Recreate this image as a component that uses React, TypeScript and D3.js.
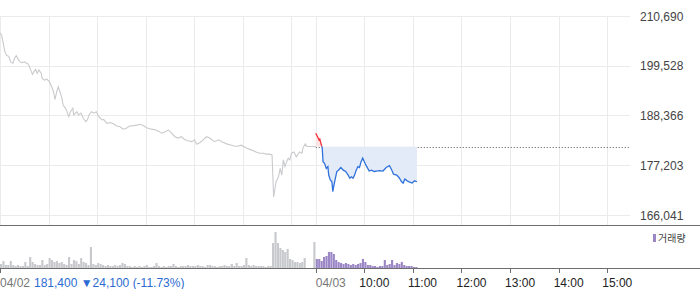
import React from "react";
import * as d3 from "d3";

// [minutes since 09:00, price] — previous session (04/02)
const prevDay: [number, number][] = [
  [0, 206900], [2, 206400], [4, 204600], [6, 202700], [8, 201900], [11, 201600], [13, 200400], [16, 200100],
  [18, 201200], [20, 201800], [23, 200800], [25, 200400], [27, 200200], [30, 200400], [33, 200100], [35, 199900],
  [37, 199000], [40, 197600], [42, 198200], [44, 198700], [46, 197800], [48, 198600], [51, 197800], [52, 196700],
  [55, 196300], [58, 196500], [61, 195900], [64, 194800], [66, 193700], [68, 192000], [70, 193700], [72, 194800],
  [74, 193700], [76, 192600], [78, 190700], [80, 190200], [82, 189600], [85, 188100], [87, 189200], [90, 190000],
  [91, 188500], [95, 189200], [97, 188500], [100, 188900], [103, 187700], [106, 187000], [108, 187400], [110, 188500],
  [113, 189200], [116, 188900], [119, 189200], [122, 188100], [126, 187400], [128, 187500], [132, 186600], [136, 186800],
  [140, 186500], [144, 186000], [148, 185900], [152, 185300], [156, 185500], [160, 186000], [165, 186100], [169, 186200],
  [173, 186400], [177, 186100], [181, 185600], [187, 185300], [193, 185100], [200, 184400], [204, 184700], [208, 185100],
  [212, 184400], [216, 183600], [220, 183300], [224, 183600], [228, 183000], [232, 182700], [237, 182500], [240, 182900],
  [243, 181900], [247, 182300], [251, 182900], [255, 183600], [259, 183300], [265, 182500], [270, 182900], [274, 182500],
  [280, 182000], [286, 181700], [292, 181400], [298, 181700], [305, 181000], [311, 180600], [317, 180100], [321, 179900],
  [325, 179900], [329, 179700], [333, 179700], [336, 179500], [338, 170100], [341, 173500], [344, 174600], [346, 176500],
  [348, 175000], [350, 178400], [352, 176900], [354, 178000], [356, 178800], [358, 178400], [360, 179900], [363, 180200],
  [366, 179100], [370, 180200], [373, 179900], [374, 181000], [377, 182000], [379, 181400], [390, 181400],
];

// [minutes since 09:00, price] — current session (04/03)
const today: [number, number][] = [
  [0, 184400], [3, 183300], [4, 182900], [5, 183100], [7, 181700], [8, 181100], [9, 178000], [11, 177600],
  [13, 176500], [15, 176900], [16, 175000], [18, 173900], [20, 173500], [21, 171300], [23, 173200], [26, 175800],
  [28, 176100], [31, 176700], [34, 176100], [37, 175800], [40, 175000], [42, 174300], [44, 174600], [46, 174300],
  [48, 175000], [50, 176100], [52, 176900], [54, 176700], [56, 178000], [58, 178800], [61, 177600], [63, 176900],
  [66, 175900], [69, 176100], [72, 175800], [75, 175900], [79, 176000], [83, 175900], [87, 176700], [91, 177100],
  [94, 176100], [96, 175200], [100, 175000], [103, 174400], [106, 173500], [108, 173200], [110, 174100], [113, 173700],
  [116, 173400], [119, 173200], [122, 173700], [125, 173500],
];

const refPrice = 181400;

// volume per 3-minute bin
const prevVolume = [
  10000, 17500, 7500, 7500, 17500, 7500, 5000, 7500, 5000, 5000,
  15000, 5000, 27500, 15000, 10000, 7500, 7500, 20000, 7500, 10000,
  25000, 20000, 15000, 17500, 12500, 15000, 10000, 7500, 27500, 10000,
  20000, 17500, 10000, 25000, 15000, 12500, 7500, 52500, 10000, 7500,
  12500, 10000, 7500, 5000, 7500, 5000, 5000, 7500, 5000, 7500,
  12500, 10000, 5000, 5000, 2500, 5000, 2500, 5000, 2500, 5000,
  7500, 2500, 2500, 5000, 12500, 5000, 2500, 5000, 2500, 5000,
  5000, 10000, 5000, 2500, 5000, 5000, 5000, 7500, 5000, 5000,
  5000, 7500, 5000, 5000, 2500, 7500, 7500, 5000, 5000, 2500,
  5000, 5000, 7500, 5000, 5000, 10000, 5000, 12500, 5000, 5000,
  7500, 25000, 7500, 5000, 7500, 5000, 5000, 5000, 5000, 2500,
  5000, 5000, 62500, 90000, 62500, 50000, 45000, 40000, 47500, 22500,
  20000, 15000, 15000, 12500, 15000, 25000, 0, 0, 0, 65000,
];
const todayVolume = [
  22500, 22500, 17500, 27500, 30000, 40000, 40000, 35000, 20000, 15000,
  12500, 10000, 12500, 10000, 7500, 10000, 7500, 10000, 12500, 22500,
  15000, 7500, 7500, 5000, 5000, 2500, 5000, 5000, 20000, 7500,
  10000, 20000, 7500, 12500, 10000, 15000, 7500, 5000, 5000, 5000,
  2500, 2500,
];

const yTicks = [210690, 199528, 188366, 177203, 166041];
const timeTicks: { m: number; label: string; date: boolean }[] = [
  { m: 0, label: "04/02", date: true },
  { m: 390, label: "04/03", date: true },
  { m: 450, label: "10:00", date: false },
  { m: 510, label: "11:00", date: false },
  { m: 570, label: "12:00", date: false },
  { m: 630, label: "13:00", date: false },
  { m: 690, label: "14:00", date: false },
  { m: 750, label: "15:00", date: false },
];
const gridHours = [0, 60, 120, 180, 240, 300, 360, 390, 450, 510, 570, 630, 690, 750];

const summary = "181,400 ▼24,100 (-11.73%)";

export default function App() {
  const W = 700, H = 289;
  const x = d3.scaleLinear().domain([0, 780]).range([0, 631.5]);
  const y = d3.scaleLinear().domain([166041, 210690]).range([215, 16]);
  const v = d3.scaleLinear().domain([0, 100000]).range([268, 228]);
  const px = (n: number) => Math.round(n) + 0.5;

  const line = d3.line<[number, number]>().x((d) => x(d[0])).y((d) => y(d[1]));
  const todayLine = d3.line<[number, number]>().x((d) => x(d[0] + 390)).y((d) => y(d[1]));
  const todayArea = d3
    .area<[number, number]>()
    .x((d) => x(d[0] + 390))
    .y0(y(refPrice))
    .y1((d) => y(d[1]));
  const yRef = y(refPrice);
  const font = "'Liberation Sans', Arial, sans-serif";
  const step = x(3) - x(0);

  return (
    <svg width={W} height={H} style={{ position: "absolute", left: 0, top: 0 }} fontFamily={font}>
      <defs>
        <clipPath id="above">
          <rect x={0} y={0} width={W} height={yRef} />
        </clipPath>
        <clipPath id="below">
          <rect x={0} y={yRef} width={W} height={225 - yRef} />
        </clipPath>
      </defs>
      {/* grid */}
      {yTicks.map((t) => (
        <line key={t} x1={0} x2={630} y1={px(y(t))} y2={px(y(t))} stroke="#ebebeb" />
      ))}
      {gridHours.map((m) => (
        <line key={m} x1={px(x(m))} x2={px(x(m))} y1={16} y2={225} stroke="#ebebeb" />
      ))}
      {yTicks.map((t) => (
        <text key={t} x={640} y={y(t) + 4.5} fontSize={12} fill="#444">
          {d3.format(",")(t)}
        </text>
      ))}
      {/* reference line */}
      <line x1={x(390)} x2={630} y1={px(yRef)} y2={px(yRef)} stroke="#555" strokeDasharray="1,2" />
      {/* previous day */}
      <path d={line(prevDay) || ""} fill="none" stroke="#c9cacd" strokeWidth={1.1} />
      {/* today */}
      <path d={todayArea(today) || ""} fill="#fde3e3" clipPath="url(#above)" />
      <path d={todayArea(today) || ""} fill="#e3ebf9" clipPath="url(#below)" />
      <path d={todayLine(today) || ""} fill="none" stroke="#f2333d" strokeWidth={1.3} clipPath="url(#above)" />
      <path d={todayLine(today) || ""} fill="none" stroke="#2f72dc" strokeWidth={1.3} clipPath="url(#below)" />
      {/* separators */}
      <line x1={0} x2={W} y1={225.5} y2={225.5} stroke="#6d6d6d" />
      {/* volume */}
      {prevVolume.map((val, i) =>
        val > 0 ? (
          <rect key={"p" + i} x={x(i * 3)} y={v(val)} width={step - 0.3} height={268 - v(val)} fill="#c8c9cc" />
        ) : null
      )}
      {todayVolume.map((val, i) => (
        <rect key={"t" + i} x={x(390 + i * 3)} y={v(val)} width={step - 0.3} height={268 - v(val)} fill="#9b86c6" />
      ))}
      <line x1={0} x2={W} y1={268.5} y2={268.5} stroke="#6d6d6d" />
      {timeTicks.map((t) => (
        <line key={t.m} x1={px(x(t.m))} x2={px(x(t.m))} y1={268} y2={273} stroke="#6d6d6d" />
      ))}
      {timeTicks.map((t) => (
        <text
          key={t.m}
          x={t.date ? x(t.m) : x(t.m) - 5}
          y={287}
          fontSize={12}
          fill={t.date ? "#777" : "#222"}
        >
          {t.label}
        </text>
      ))}
      <text x={34} y={287} fontSize={12} fill="#2b6bd3">
        {summary}
      </text>
      {/* legend */}
      <rect x={653} y={234} width={3} height={8} fill="#9b86c6" />
      <text x={658} y={242} fontSize={10} fill="#444" fontFamily="'Noto Sans CJK KR', sans-serif">
        거래량
      </text>
    </svg>
  );
}
